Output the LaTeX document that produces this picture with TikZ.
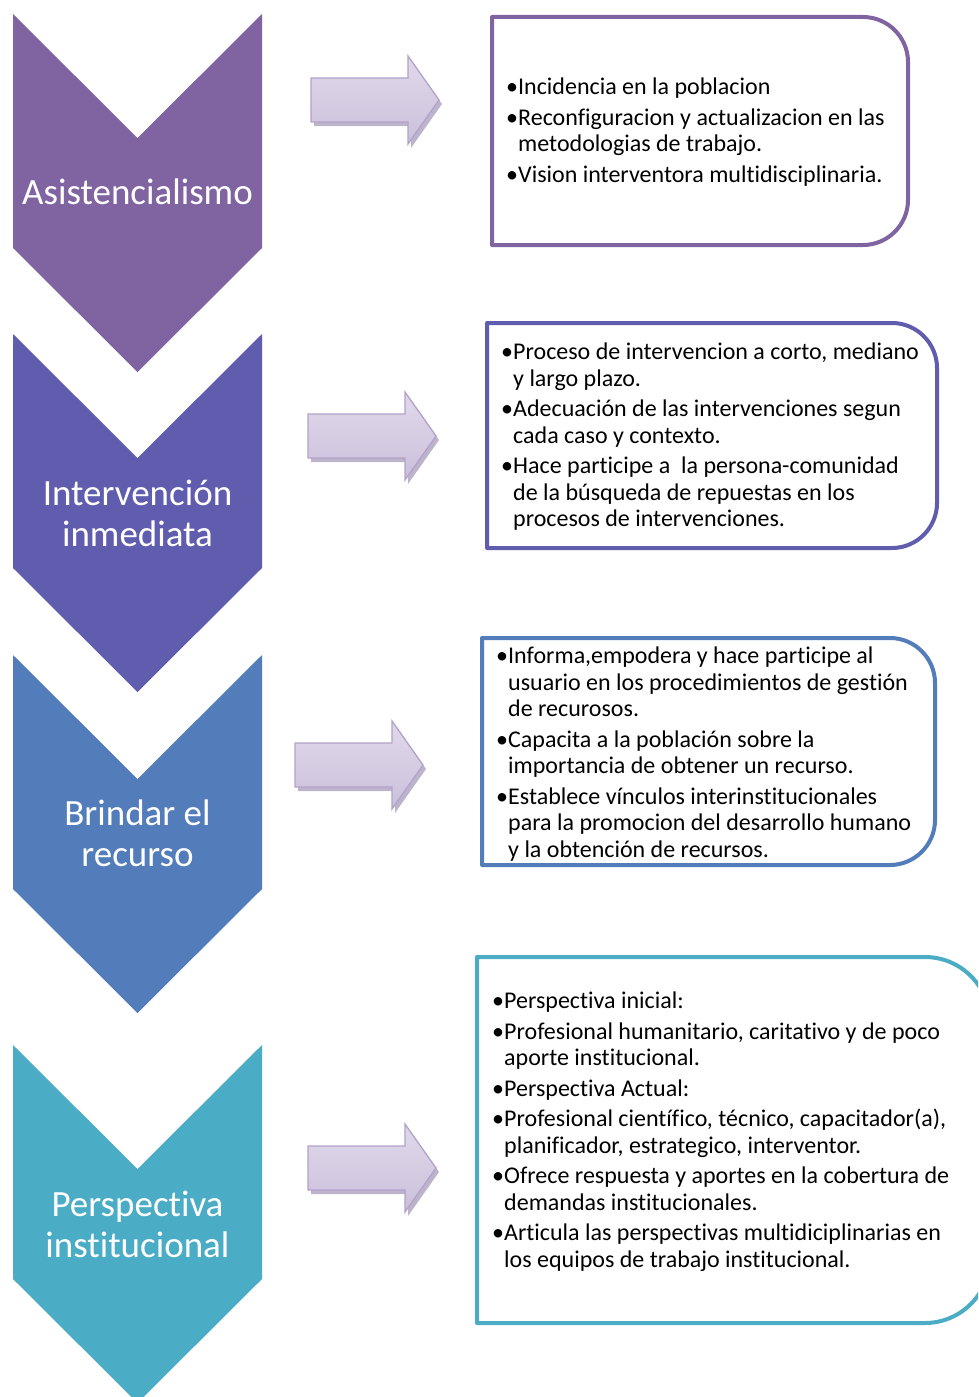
\documentclass[tikz,border=0pt]{standalone}
\usepackage{fontspec}
\setmainfont{Carlito}[Ligatures={NoCommon}]
\definecolor{cA}{HTML}{8064A2}
\definecolor{cB}{HTML}{605DAE}
\definecolor{cC}{HTML}{537CBB}
\definecolor{cD}{HTML}{4BACC6}
\definecolor{arTop}{HTML}{E0D9EA}
\definecolor{arMid}{HTML}{EAE5F1}
\definecolor{arBot}{HTML}{CBBFDB}
\definecolor{arLine}{HTML}{B3A2CA}
\definecolor{arShadow}{HTML}{A79BBB}
\newcommand{\bl}{\makebox[12pt][l]{•}}
\newcommand{\ind}{\hspace*{12pt}}
\newcommand{\chevronshape}[2]{%
  \fill[#2] (13,#1) -- (137.5,{#1+124}) -- (262,#1) -- (262,{#1+234})
    -- (137.5,{#1+358}) -- (13,{#1+234}) -- cycle;}
\newcommand{\infobox}[6]{% x1 y1 x2 y2 r color
  \draw[boxline,draw=#6] ({#1+2},#2) -- ({#3-#5},#2)
    .. controls ({#3-0.45*#5},#2) and (#3,{#2+0.45*#5}) .. (#3,{#2+#5})
    -- (#3,{#4-#5})
    .. controls (#3,{#4-0.45*#5}) and ({#3-0.45*#5},#4) .. ({#3-#5},#4)
    -- (#1,#4) -- (#1,#2) -- cycle;}
\tikzset{
  x=1pt, y=-1pt,
  lbl/.style={text=white, inner sep=0pt, anchor=base,
    font=\fontsize{37}{41}\selectfont},
  boxtxt/.style={inner sep=0pt, anchor=base west,
    font=\fontsize{24}{26.5}\selectfont},
  boxline/.style={line width=4pt, line join=round},
  barrow/.pic={
    \fill[arShadow, fill opacity=0.75] (3,-18) -- (100,-18) -- (100,-40) -- (131,4)
      -- (100,48) -- (100,26) -- (3,26) -- cycle;
    \draw[draw=arLine, line width=1.3pt, top color=arTop, middle color=arMid,
      bottom color=arBot] (0,-22) -- (97,-22) -- (97,-44) -- (128,0)
      -- (97,44) -- (97,22) -- (0,22) -- cycle;
  }
}
\begin{document}
\begin{tikzpicture}
\useasboundingbox (0,0) rectangle (978,1397);
\clip (0,0) rectangle (978,1397);
\fill[white] (0,0) rectangle (978,1397);
% chevrons
\chevronshape{14}{cA}
\chevronshape{334}{cB}
\chevronshape{655}{cC}
\chevronshape{1045}{cD}
\node[lbl] (l1) at (137.5,204) {Asistencialismo};
\node[lbl] (l2) at (137.5,505) {\begin{minipage}[t]{250pt}\centering Intervención\\inmediata\end{minipage}};
\node[lbl] (l3) at (137.5,825) {\begin{minipage}[t]{250pt}\centering Brindar el\\recurso\end{minipage}};
\node[lbl] (l4) at (137.5,1216) {\begin{minipage}[t]{250pt}\centering Perspectiva\\institucional\end{minipage}};
% arrows
\pic (a1) at (311,100) {barrow};
\pic (a2) at (308,436) {barrow};
\pic (a3) at (295,765) {barrow};
\pic (a4) at (308,1168) {barrow};
% boxes
\infobox{492}{17}{908}{245}{45}{cA}
\infobox{487}{323}{937}{548}{45}{cB}
\infobox{482}{638}{935}{865}{45}{cC}
\infobox{477}{957}{990}{1323}{65}{cD}
\node[boxtxt] (t1) at (506,94.5) {\begin{minipage}[t]{460pt}
\bl Incidencia en la poblacion\\[4pt]
\bl Reconfiguracion y actualizacion en las\\
\ind metodologias de trabajo.\\[4pt]
\bl Vision interventora multidisciplinaria.\end{minipage}};
\node[boxtxt] (t2) at (501,359.5) {\begin{minipage}[t]{460pt}
\bl Proceso de intervencion a corto, mediano\\
\ind y largo plazo.\\[4pt]
\bl Adecuación de las intervenciones segun\\
\ind cada caso y contexto.\\[4pt]
\bl Hace participe a\ \ la persona-comunidad\\
\ind de la búsqueda de repuestas en los\\
\ind procesos de intervenciones.\end{minipage}};
\node[boxtxt] (t3) at (496,663.5) {\begin{minipage}[t]{460pt}
\bl Informa,empodera y hace participe al\\
\ind usuario en los procedimientos de gestión\\
\ind de recurosos.\\[4pt]
\bl Capacita a la población sobre la\\
\ind importancia de obtener un recurso.\\[4pt]
\bl Establece vínculos interinstitucionales\\
\ind para la promocion del desarrollo humano\\
\ind y la obtención de recursos.\end{minipage}};
\node[boxtxt] (t4) at (492,1008.5) {\begin{minipage}[t]{480pt}
\bl Perspectiva inicial:\\[4pt]
\bl Profesional humanitario, caritativo y de poco\\
\ind aporte institucional.\\[4pt]
\bl Perspectiva Actual:\\[4pt]
\bl Profesional científico, técnico, capacitador(a),\\
\ind planificador, estrategico, interventor.\\[4pt]
\bl Ofrece respuesta y aportes en la cobertura de\\
\ind demandas institucionales.\\[4pt]
\bl Articula las perspectivas multidiciplinarias en\\
\ind los equipos de trabajo institucional.\end{minipage}};
\end{tikzpicture}
\end{document}
